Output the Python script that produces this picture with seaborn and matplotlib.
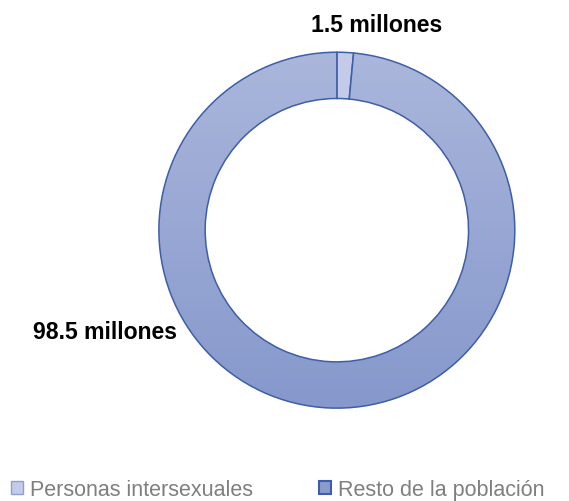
import numpy as np
import matplotlib
matplotlib.use("Agg")
import matplotlib.pyplot as plt
from matplotlib.colors import LinearSegmentedColormap
import seaborn as sns

# Datos
categorias = ["Personas intersexuales", "Resto de la población"]
valores = [1.5, 98.5]
etiquetas = ["1.5 millones", "98.5 millones"]

sns.set_style("white")
plt.rcParams["font.family"] = ["Liberation Sans", "DejaVu Sans"]

colores = ["#c3cbe8", "#97a5d4"]
borde = "#3d5ea8"

fig = plt.figure(figsize=(5.69, 5.02), dpi=100)
ax = fig.add_axes([0.279, 0.185, 0.626, 0.709])

wedges, _ = ax.pie(valores, startangle=90, counterclock=False, colors=colores,
                   wedgeprops=dict(width=0.26, edgecolor=borde, linewidth=1.1))

# degradado vertical en el segmento grande
cmap = LinearSegmentedColormap.from_list("grad", ["#8698cc", "#aab6db"])
grad = np.linspace(0, 1, 256).reshape(-1, 1)
im = ax.imshow(grad, extent=[-1, 1, -1, 1], origin="lower", cmap=cmap,
               aspect="auto", zorder=wedges[1].get_zorder() + 0.1)
im.set_clip_path(wedges[1])
wedges[1].set_facecolor("none")
wedges[1].set_zorder(im.get_zorder() + 0.1)
ax.set_xlim(-1, 1)
ax.set_ylim(-1, 1)
ax.set_aspect("equal")

fig.text(377 / 569, 1 - 26 / 502, etiquetas[0], ha="center", va="center",
         fontsize=16.6, fontweight="bold", color="black")
fig.text(105 / 569, 1 - 333 / 502, etiquetas[1], ha="center", va="center",
         fontsize=16.6, fontweight="bold", color="black")

handles = [plt.Rectangle((0, 0), 1, 1, facecolor=colores[0], edgecolor="#8fa0d0", linewidth=1),
           plt.Rectangle((0, 0), 1, 1, facecolor="#8a9bcf", edgecolor=borde, linewidth=1.5)]
fig.legend(handles, categorias, loc="center", bbox_to_anchor=(0.488, 1 - 491 / 502),
           ncol=2, frameon=False, fontsize=15.5, labelcolor="#7f7f7f",
           handlelength=0.55, handleheight=0.55, handletextpad=0.3, columnspacing=3.1)

ax.axis("off")
fig.savefig("out.png", dpi=100)
